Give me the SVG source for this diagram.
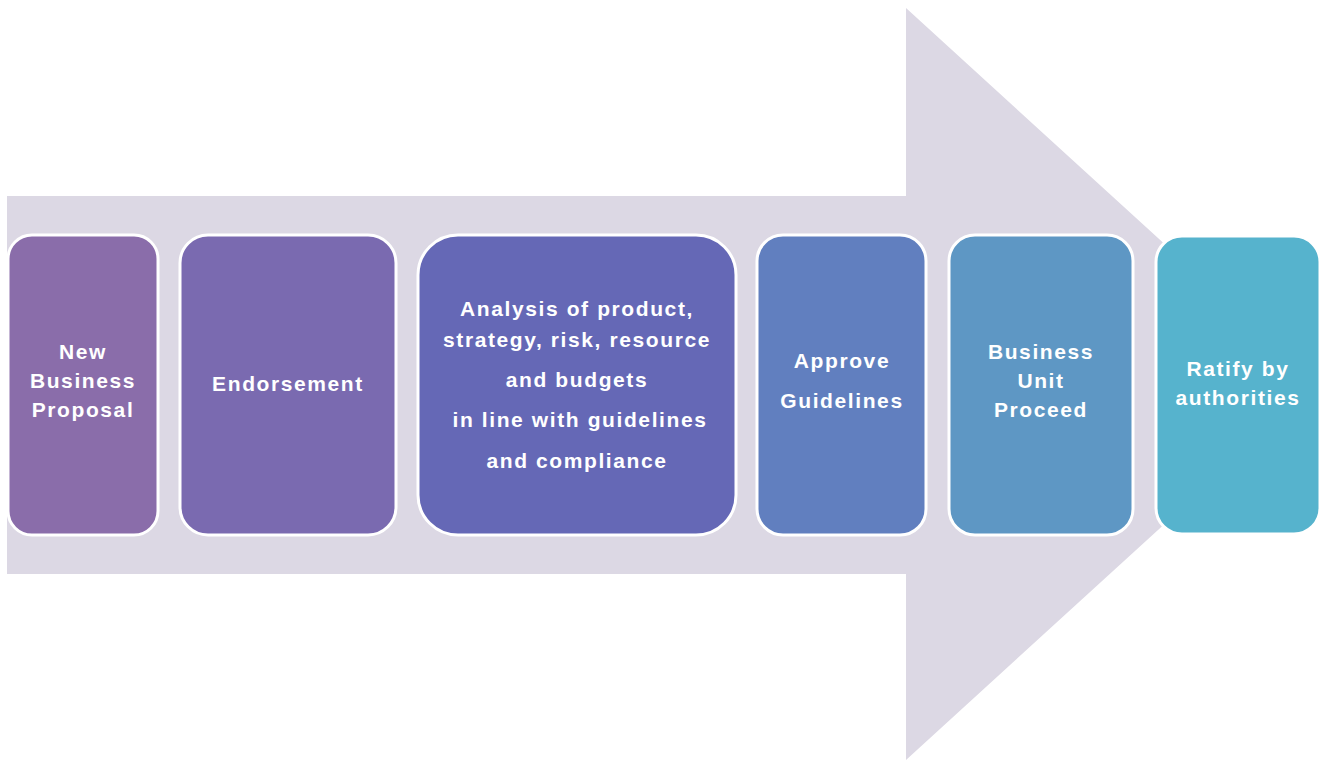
<svg xmlns="http://www.w3.org/2000/svg" width="1320" height="761" viewBox="0 0 1320 761">
<style>
.box{stroke:#ffffff;stroke-width:3}
.t{font-family:"Liberation Sans",Arial,sans-serif;font-weight:bold;font-size:21px;fill:#ffffff;text-anchor:middle;letter-spacing:1.6px}
</style>
<rect width="1320" height="761" fill="#ffffff"/>
<g id="arrow">
<polygon points="7,196 906,196 906,8 1318,384 906,760 906,574 7,574" fill="#dcd8e4"/>
</g>
<g id="connectors"></g>
<g id="n1">
<rect class="box" x="8" y="235" width="150" height="300" rx="24" fill="#8a6daa"/>
<text class="t" x="83" y="359">New</text>
<text class="t" x="83" y="388">Business</text>
<text class="t" x="83" y="417">Proposal</text>
</g>
<g id="n2">
<rect class="box" x="180" y="235" width="216" height="300" rx="28" fill="#7a6ab0"/>
<text class="t" x="288" y="391">Endorsement</text>
</g>
<g id="n3">
<rect class="box" x="418" y="235" width="318" height="300" rx="40" fill="#6568b6"/>
<text class="t" x="577" y="316">Analysis of product,</text>
<text class="t" x="577" y="347">strategy, risk, resource</text>
<text class="t" x="577" y="387">and budgets</text>
<text class="t" x="580" y="427">in line with guidelines</text>
<text class="t" x="577" y="468">and compliance</text>
</g>
<g id="n4">
<rect class="box" x="757" y="235" width="169" height="300" rx="26" fill="#617fbf"/>
<text class="t" x="842" y="368">Approve</text>
<text class="t" x="842" y="408">Guidelines</text>
</g>
<g id="n5">
<rect class="box" x="949" y="235" width="184" height="300" rx="26" fill="#5e97c4"/>
<text class="t" x="1041" y="359">Business</text>
<text class="t" x="1041" y="388">Unit</text>
<text class="t" x="1041" y="417">Proceed</text>
</g>
<g id="n6">
<rect class="box" x="1156" y="236" width="164" height="298" rx="26" fill="#56b3cd"/>
<text class="t" x="1238" y="376">Ratify by</text>
<text class="t" x="1238" y="405">authorities</text>
</g>
</svg>
